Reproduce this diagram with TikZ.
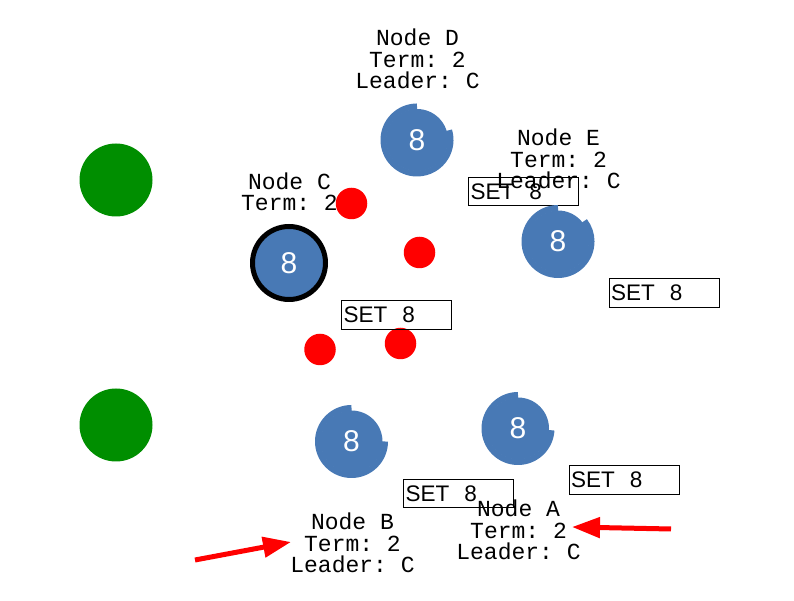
\documentclass[tikz,border=0pt]{standalone}
\usepackage{fontspec}
\setmonofont{Liberation Mono}
\setsansfont{Liberation Sans}
\usepackage{tikz}
\usetikzlibrary{arrows.meta,positioning,shapes.geometric}
\definecolor{serverblue}{RGB}{72,121,181}
\definecolor{clientgreen}{RGB}{0,142,0}

\begin{document}
\begin{tikzpicture}[
    x=1pt, y=1pt,
    font=\ttfamily\fontsize{23}{21.5}\selectfont,
    server/.style={
		circle,
		fill=serverblue,
		text=white,
		font=\sffamily\fontsize{30}{30}\selectfont,
		minimum size=62pt,
		inner sep=0pt
	},
	timer/.style={
		draw=serverblue,
		line width=6pt
	},
	client/.style={
		circle,
		fill=clientgreen,
		minimum size=73pt
	},
	message/.style={
		circle,
		fill=red,
		minimum size=31.5pt
	},
	info/.style={
		align=center,
		inner sep=0pt
	},
	command/.style={
		draw=black,
		line width=0.8pt,
		font=\sffamily\fontsize{22.5}{24}\selectfont,
		minimum width=110pt,
		minimum height=28.5pt,
		text width=106pt,
		inner xsep=2pt,
		inner ysep=0pt,
		align=left
	},
	pointer/.style={
		draw=red,
		line width=5pt,
		-{Triangle[length=28pt,width=20pt]}
	}
  ]
  \useasboundingbox (0,0) rectangle (794,601);

    % clients on the left
  \node [client] (client1) at (116,421) {};
  \node [client] (client2) at (116,176) {};

    % messages on the way
  \node [message] (msg1) at (351.5,397.5) {};
  \node [message] (msg2) at (419.5,348.5) {};
  \node [message] (msg3) at (320,251.5) {};
  \node [message] (msg4) at (400.5,257.5) {};

    % log entries
  \node [command] (setE) at (523.5,409.5) {SET\ \ 8};
  \node [command] (setR) at (664,308) {SET\ \ 8};
  \node [command] (setC) at (396.5,286) {SET\ \ 8};
  \node [command] (setB) at (458.5,107.5) {SET\ \ 8};
  \node [command] (setA) at (624,121) {SET\ \ 8};

    % the servers, with their election timers
  \node [server] (serverD) at (417,461) {8};
  \draw [timer] ([shift={(90:33.5pt)}]serverD.center) arc [start angle=90, end angle=377, radius=33.5pt];

  \node [server] (serverE) at (558,359.5) {8};
  \draw [timer] ([shift={(90:33.5pt)}]serverE.center) arc [start angle=90, end angle=398, radius=33.5pt];

  \node [server, draw=black, line width=5pt, minimum size=73pt] (serverC) at (289,338) {8};

  \node [server] (serverB) at (351.5,159.5) {8};
  \draw [timer] ([shift={(90:33.5pt)}]serverB.center) arc [start angle=90, end angle=360, radius=33.5pt];

  \node [server] (serverA) at (518,172.5) {8};
  \draw [timer] ([shift={(90:33.5pt)}]serverA.center) arc [start angle=90, end angle=357, radius=33.5pt];

    % state of each server
  \node [info] (infoD) at (417.5,542) {Node D\\Term: 2\\Leader: C};
  \node [info] (infoE) at (558.5,442) {Node E\\Term: 2\\Leader: C};
  \node [info] (infoC) at (289.5,409) {Node C\\Term: 2};
  \node [info] (infoB) at (352.5,58) {Node B\\Term: 2\\Leader: C};
  \node [info] (infoA) at (518.5,71) {Node A\\Term: 2\\Leader: C};

    % arrows
  \coordinate (startB) at (195,41);
  \coordinate (tipB) at (291,59);
  \coordinate (startA) at (671,72);
  \coordinate (tipA) at (572,74);
  \draw [pointer] (startB) -- (tipB);
  \draw [pointer] (startA) -- (tipA);

\end{tikzpicture}
\end{document}
